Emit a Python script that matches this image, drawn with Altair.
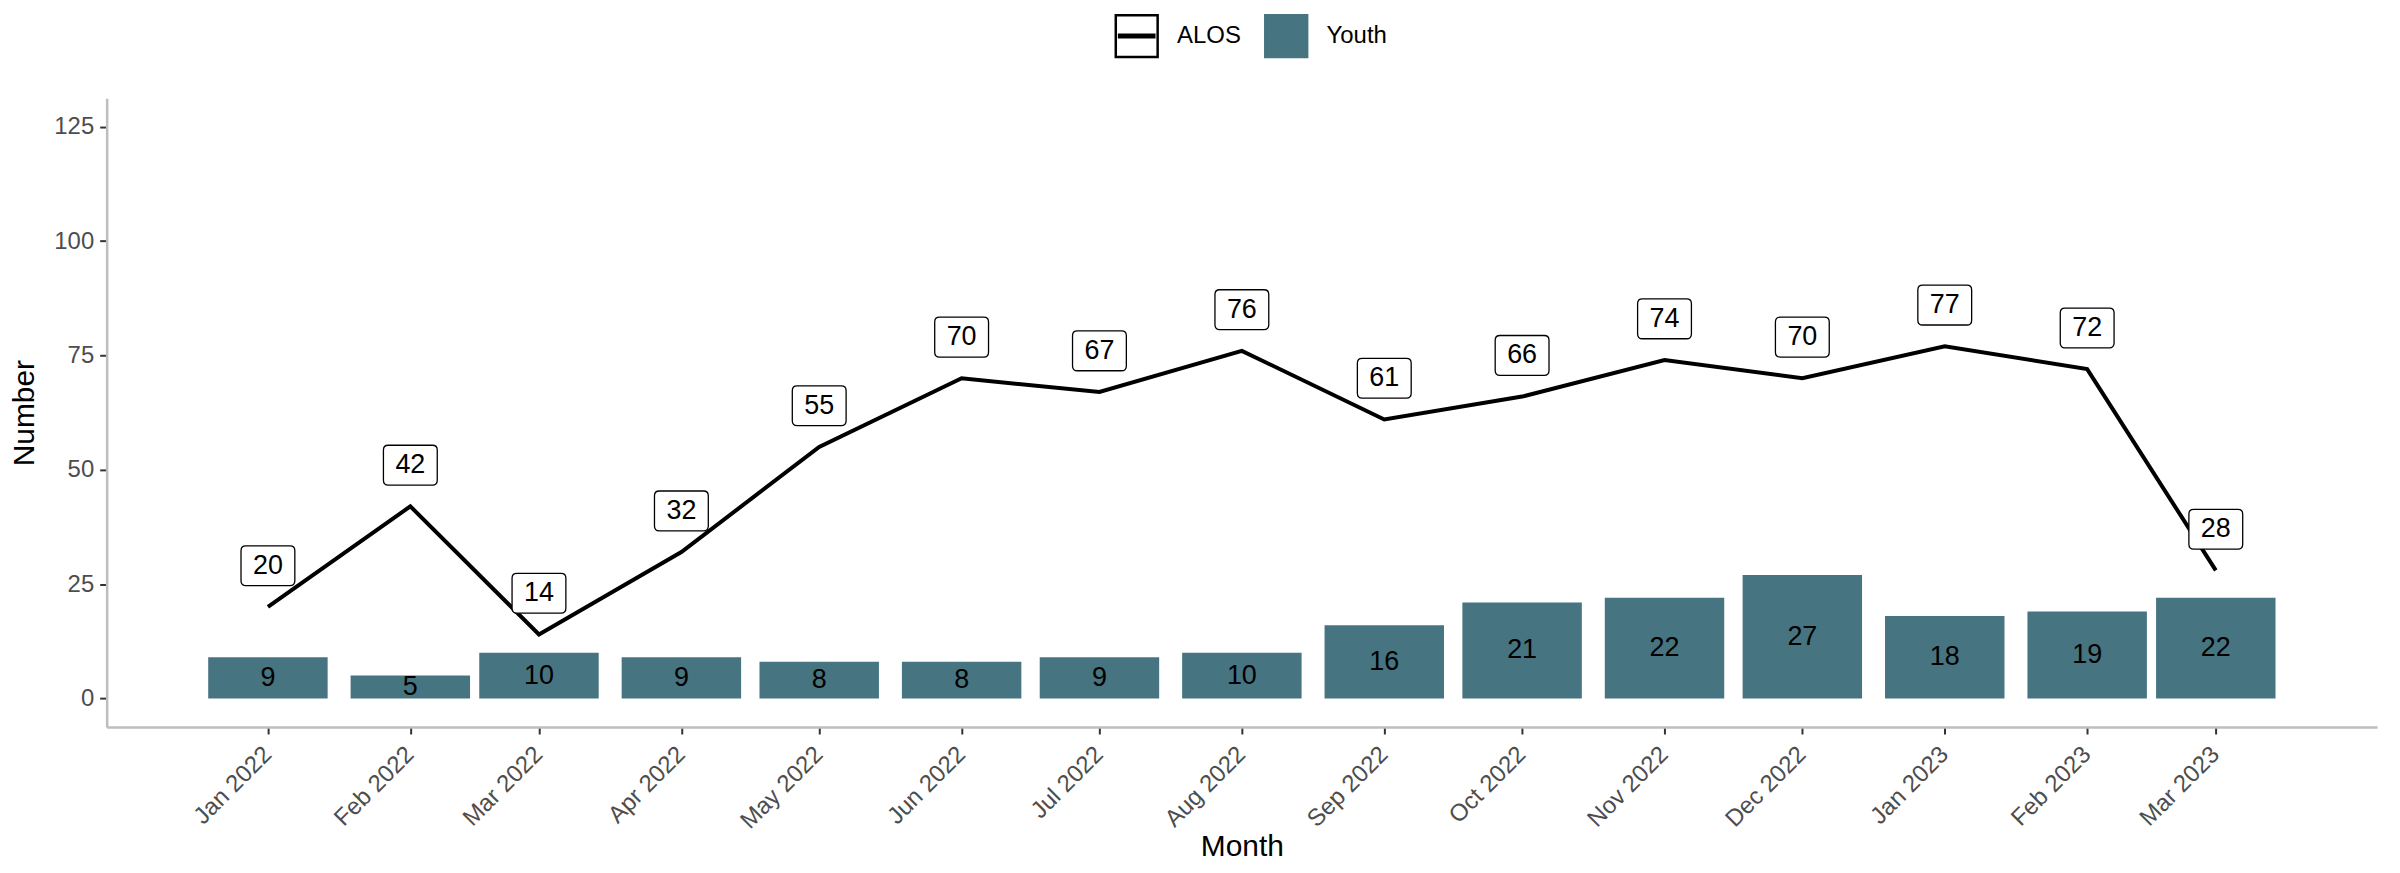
import altair as alt
import pandas as pd

# ---- data ----
months = ["2022-01-01", "2022-02-01", "2022-03-01", "2022-04-01", "2022-05-01",
          "2022-06-01", "2022-07-01", "2022-08-01", "2022-09-01", "2022-10-01",
          "2022-11-01", "2022-12-01", "2023-01-01", "2023-02-01", "2023-03-01"]
alos = [20, 42, 14, 32, 55, 70, 67, 76, 61, 66, 74, 70, 77, 72, 28]
youth = [9, 5, 10, 9, 8, 8, 9, 10, 16, 21, 22, 27, 18, 19, 22]
series_names = ["ALOS", "Youth"]
y_ticks = [0, 25, 50, 75, 100, 125]

FONT = "Liberation Sans"
TEAL = "#467480"
HALF_BAR_DAYS = 13
NUDGE = 9

m = pd.to_datetime(months)
bars = pd.DataFrame({
    "Month": m,
    "start": m - pd.Timedelta(days=HALF_BAR_DAYS),
    "end": m + pd.Timedelta(days=HALF_BAR_DAYS),
    "Youth": youth,
    "series": "Youth",
})
line = pd.DataFrame({"Month": m, "ALOS": alos, "series": "ALOS"})

def dt(ts):
    return alt.DateTime(year=ts.year, month=ts.month, date=ts.day,
                        hours=ts.hour, minutes=ts.minute)

x_lo = m[0] - pd.Timedelta(hours=35.1 * 24)
x_hi = m[0] + pd.Timedelta(hours=459.1 * 24)

x_scale = alt.Scale(domain=[dt(x_lo), dt(x_hi)], nice=False)
y_scale = alt.Scale(domain=[-6.25, 131.25], nice=False, zero=False)

x_axis = alt.Axis(values=[dt(t) for t in m], format="%b %Y", labelAngle=-45,
                  labelAlign="right", labelBaseline="top", title="Month",
                  labelPadding=8, labelOffset=-9, titleY=129,
                  titleBaseline="alphabetic")
y_axis = alt.Axis(values=y_ticks, title="Number", titlePadding=14, labelPadding=6)

legend_path = ("M-1,-1H1V1H-1Z M-0.9,-0.06H0.9 M-0.9,0H0.9 M-0.9,0.06H0.9")
legend = alt.Legend(title=None, orient="none", legendX=1011, legendY=-85,
                    direction="horizontal", symbolType=legend_path,
                    symbolSize=1764, symbolStrokeWidth=2.5, labelFontSize=24,
                    labelFont=FONT, labelColor="black", labelOffset=18,
                    columnPadding=18)

fill_scale = alt.Scale(domain=series_names, range=["white", TEAL])
stroke_scale = alt.Scale(domain=series_names, range=["black", TEAL])

bar_layer = alt.Chart(bars).mark_bar().encode(
    x=alt.X("start:T", scale=x_scale, axis=x_axis),
    x2="end:T",
    y=alt.Y("Youth:Q", scale=y_scale, axis=y_axis),
    y2=alt.datum(0),
    fill=alt.Fill("series:N", scale=fill_scale, legend=legend),
)

bar_text = alt.Chart(bars).transform_calculate(
    mid="datum.Youth / 2"
).mark_text(fontSize=27, font=FONT, color="black", baseline="middle").encode(
    x="Month:T", y="mid:Q", text="Youth:Q"
)

line_layer = alt.Chart(line).mark_line(strokeWidth=4).encode(
    x="Month:T",
    y="ALOS:Q",
    stroke=alt.Stroke("series:N", scale=stroke_scale, legend=legend),
)

box_path = ("M-0.82,-0.74H0.82Q1,-0.74 1,-0.56V0.56Q1,0.74 0.82,0.74"
            "H-0.82Q-1,0.74 -1,0.56V-0.56Q-1,-0.74 -0.82,-0.74Z")

label_base = alt.Chart(line).transform_calculate(ly=f"datum.ALOS + {NUDGE}")

label_box = label_base.mark_point(
    shape=box_path, size=2916, filled=True, fill="white", stroke="black",
    strokeWidth=1.3, opacity=1
).encode(x="Month:T", y="ly:Q")

label_text = label_base.mark_text(
    fontSize=27, font=FONT, color="black", baseline="middle"
).encode(x="Month:T", y="ly:Q", text="ALOS:Q")

chart = alt.layer(bar_layer, bar_text, line_layer, label_box, label_text).properties(
    width=2278, height=631,
    autosize=alt.AutoSizeParams(type="none"),
    padding={"left": 99, "top": 89, "right": 15, "bottom": 137},
).configure_view(stroke=None).configure_axis(
    grid=False, domainColor="#BEBEBE", domainWidth=2.5, tickColor="#333333",
    tickWidth=2, tickSize=7, labelFont=FONT, labelFontSize=24,
    labelColor="#4D4D4D", titleFont=FONT, titleFontSize=30,
    titleFontWeight="normal", titleColor="black"
)

chart.save("out.html", embed_options={"renderer": "svg", "actions": False})
